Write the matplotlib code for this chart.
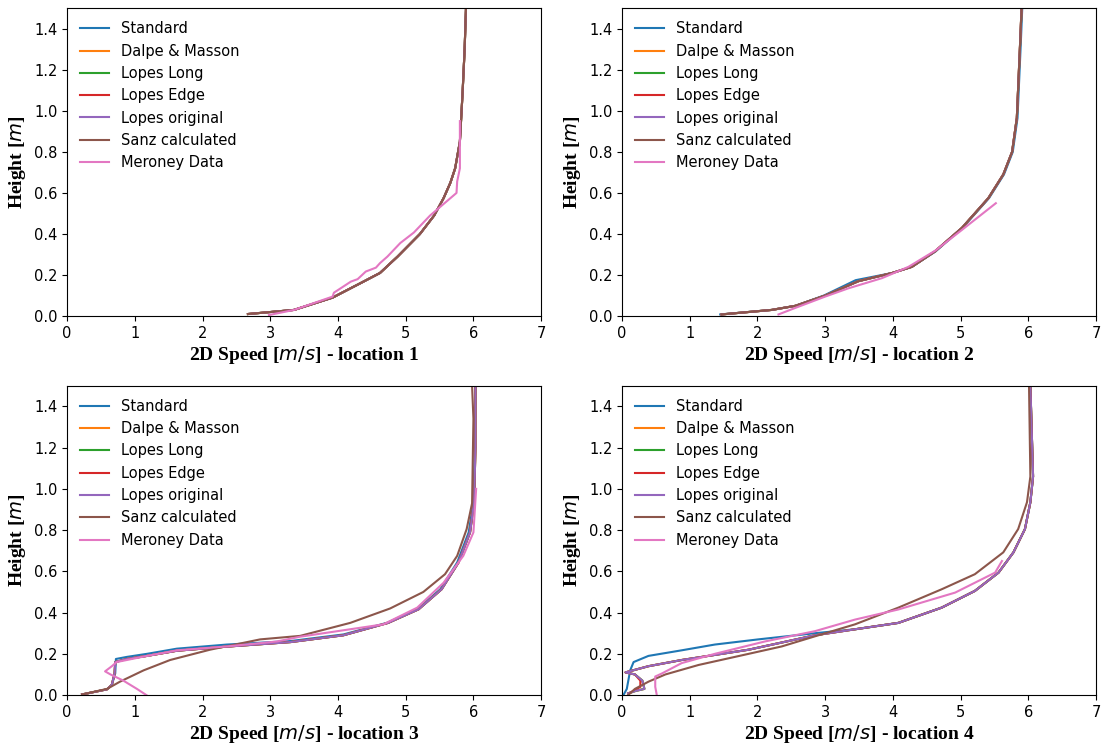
import numpy as np
import matplotlib.pyplot as plt

labels = ["Standard", "Dalpe & Masson", "Lopes Long", "Lopes Edge",
          "Lopes original", "Sanz calculated", "Meroney Data"]

# location 1 (all models nearly on top of each other)
h1 = [0.01, 0.03, 0.09, 0.16, 0.21, 0.29, 0.40, 0.49, 0.575, 0.65, 0.72, 0.85, 1.09, 1.3, 1.5]
u1 = [2.67, 3.35, 3.92, 4.33, 4.62, 4.88, 5.21, 5.42, 5.56, 5.66, 5.73, 5.80, 5.84, 5.87, 5.89]
h1_mer = [0.005, 0.03, 0.095, 0.114, 0.168, 0.18, 0.217, 0.236, 0.258, 0.29, 0.356, 0.407, 0.49, 0.60, 0.656, 0.72, 0.95]
u1_mer = [2.98, 3.35, 3.92, 3.94, 4.19, 4.29, 4.41, 4.56, 4.62, 4.73, 4.92, 5.12, 5.36, 5.75, 5.76, 5.80, 5.80]

# location 2
h2 = [0.008, 0.03, 0.05, 0.10, 0.17, 0.21, 0.24, 0.315, 0.43, 0.575, 0.69, 0.80, 0.965, 1.34, 1.5]
u2 = [1.47, 2.21, 2.56, 3.00, 3.49, 3.99, 4.28, 4.62, 5.02, 5.41, 5.63, 5.76, 5.83, 5.88, 5.90]
h2_std = [0.008, 0.03, 0.05, 0.10, 0.175, 0.21, 0.24, 0.315, 0.43, 0.575, 0.69, 0.80, 0.965, 1.34, 1.5]
u2_std = [1.45, 2.21, 2.56, 2.98, 3.45, 3.99, 4.28, 4.63, 5.03, 5.42, 5.64, 5.77, 5.84, 5.89, 5.91]
h2_mer = [0.008, 0.04, 0.095, 0.135, 0.185, 0.24, 0.32, 0.42, 0.55]
u2_mer = [2.31, 2.56, 3.00, 3.34, 3.84, 4.23, 4.63, 5.02, 5.52]

# location 3
h3_std = [0.003, 0.028, 0.05, 0.105, 0.175, 0.185, 0.20, 0.225, 0.245, 0.262, 0.294, 0.35, 0.416, 0.513, 0.643, 0.789, 0.935, 1.2, 1.5]
u3_std = [0.22, 0.59, 0.66, 0.71, 0.72, 0.88, 1.18, 1.62, 2.36, 3.30, 4.08, 4.72, 5.17, 5.51, 5.76, 5.93, 6.00, 6.02, 6.03]
h3_lop = [0.003, 0.028, 0.05, 0.105, 0.16, 0.175, 0.19, 0.215, 0.235, 0.257, 0.29, 0.35, 0.416, 0.513, 0.643, 0.789, 0.935, 1.2, 1.5]
u3_lop = [0.22, 0.59, 0.66, 0.70, 0.71, 0.88, 1.18, 1.62, 2.36, 3.30, 4.08, 4.74, 5.19, 5.53, 5.78, 5.95, 6.01, 6.03, 6.03]
h3_sanz = [0.003, 0.03, 0.065, 0.12, 0.17, 0.22, 0.27, 0.287, 0.35, 0.42, 0.50, 0.586, 0.675, 0.805, 0.93, 1.34, 1.5]
u3_sanz = [0.22, 0.59, 0.78, 1.13, 1.52, 2.11, 2.85, 3.44, 4.18, 4.77, 5.26, 5.58, 5.76, 5.90, 5.98, 6.00, 5.98]
h3_mer = [0.0, 0.03, 0.07, 0.10, 0.115, 0.14, 0.16, 0.17, 0.19, 0.217, 0.236, 0.26, 0.283, 0.343, 0.424, 0.545, 0.675, 0.789, 1.0]
u3_mer = [1.17, 1.03, 0.83, 0.64, 0.56, 0.66, 0.73, 0.88, 1.18, 1.62, 2.36, 3.10, 3.44, 4.67, 5.17, 5.56, 5.85, 6.00, 6.04]

# location 4
h4_std = [0.0, 0.03, 0.12, 0.16, 0.19, 0.217, 0.245, 0.27, 0.30, 0.319, 0.35, 0.424, 0.505, 0.594, 0.692, 0.805, 0.935, 1.06, 1.5]
u4_std = [0.02, 0.07, 0.12, 0.17, 0.39, 0.88, 1.37, 2.01, 2.85, 3.44, 4.08, 4.72, 5.21, 5.56, 5.78, 5.95, 6.03, 6.07, 6.03]
h4_edge = [0.008, 0.02, 0.04, 0.07, 0.10, 0.11, 0.14, 0.17, 0.22, 0.29, 0.319, 0.35, 0.424, 0.505, 0.594, 0.692, 0.805, 0.935, 1.06, 1.5]
u4_edge = [0.09, 0.17, 0.27, 0.27, 0.19, 0.05, 0.39, 0.88, 1.87, 2.85, 3.44, 4.08, 4.72, 5.21, 5.56, 5.78, 5.95, 6.03, 6.07, 6.03]
h4_lop = [0.008, 0.02, 0.03, 0.07, 0.10, 0.11, 0.14, 0.17, 0.22, 0.29, 0.319, 0.35, 0.424, 0.505, 0.594, 0.692, 0.805, 0.935, 1.06, 1.5]
u4_lop = [0.09, 0.20, 0.33, 0.30, 0.19, 0.05, 0.39, 0.88, 1.87, 2.85, 3.44, 4.08, 4.72, 5.21, 5.56, 5.78, 5.95, 6.03, 6.07, 6.03]
h4_sanz = [0.0, 0.03, 0.065, 0.10, 0.146, 0.20, 0.236, 0.285, 0.343, 0.424, 0.513, 0.586, 0.692, 0.805, 0.935, 1.06, 1.5]
u4_sanz = [0.09, 0.19, 0.39, 0.64, 1.13, 1.87, 2.36, 2.85, 3.44, 4.08, 4.72, 5.21, 5.63, 5.85, 5.98, 6.03, 6.01]
h4_mer = [0.005, 0.04, 0.09, 0.105, 0.155, 0.20, 0.26, 0.31, 0.366, 0.415, 0.497, 0.594, 0.65]
u4_mer = [0.51, 0.49, 0.49, 0.59, 0.88, 1.37, 2.11, 2.85, 3.44, 4.08, 4.92, 5.51, 5.61]

series = [
    [(u1, h1), (u1, h1), (u1, h1), (u1, h1), (u1, h1), (u1, h1), (u1_mer, h1_mer)],
    [(u2_std, h2_std), (u2, h2), (u2, h2), (u2, h2), (u2, h2), (u2, h2), (u2_mer, h2_mer)],
    [(u3_std, h3_std), (u3_lop, h3_lop), (u3_lop, h3_lop), (u3_lop, h3_lop), (u3_lop, h3_lop), (u3_sanz, h3_sanz), (u3_mer, h3_mer)],
    [(u4_std, h4_std), (u4_lop, h4_lop), (u4_lop, h4_lop), (u4_edge, h4_edge), (u4_lop, h4_lop), (u4_sanz, h4_sanz), (u4_mer, h4_mer)],
]
colors = ["C0", "C1", "C2", "C3", "C4", "C5", "C6"]

fig = plt.figure(figsize=(11.01, 7.49), dpi=100)
rects = [[0.061, 0.578, 0.4305, 0.411], [0.565, 0.578, 0.4305, 0.411],
         [0.061, 0.072, 0.4305, 0.413], [0.565, 0.072, 0.4305, 0.413]]

for i in range(4):
    ax = fig.add_axes(rects[i])
    for j in range(7):
        u, h = series[i][j]
        ax.plot(u, h, color=colors[j], lw=1.5, label=labels[j])
    ax.set_xlim(0, 7)
    ax.set_ylim(0, 1.5)
    ax.tick_params(labelsize=10.5)
    ax.legend(loc="upper left", frameon=False, fontsize=10.5)
    ax.set_xlabel("2D Speed [$m/s$] - location %d" % (i + 1),
                  fontfamily="Liberation Serif", fontweight="bold", fontsize=14, labelpad=2)
    ax.set_ylabel("Height [$m$]", fontfamily="Liberation Serif",
                  fontweight="bold", fontsize=14, labelpad=4)

fig.savefig("out.png", dpi=100)
